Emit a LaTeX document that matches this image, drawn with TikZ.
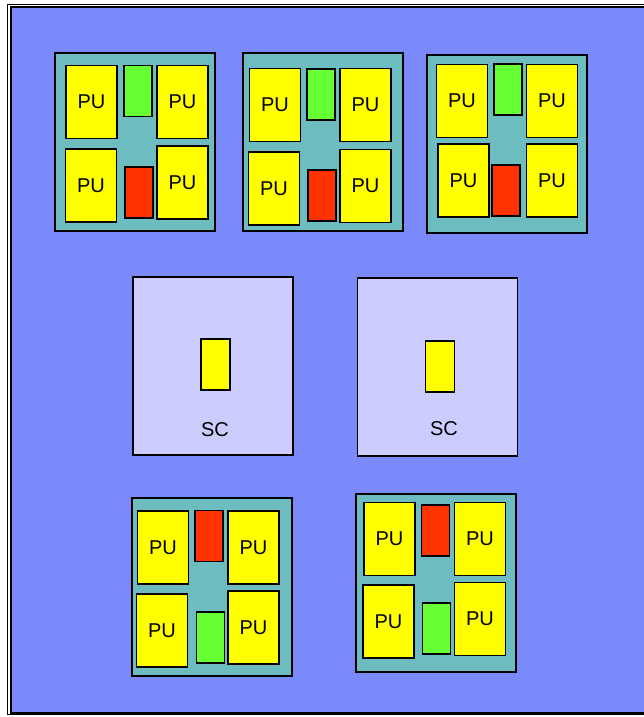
\documentclass[tikz,border=0pt]{standalone}
\usepackage{fontspec}
\setmainfont{Liberation Sans}
\usepackage{tikz}
\usetikzlibrary{positioning}
\definecolor{bgblue}{RGB}{123,138,250}
\definecolor{chipteal}{RGB}{108,188,192}
\definecolor{sclav}{RGB}{204,204,255}
\definecolor{puyellow}{RGB}{255,255,0}
\definecolor{gategreen}{RGB}{102,255,51}
\definecolor{gatered}{RGB}{255,51,0}
\tikzset{
  box/.style={draw=black, rectangle, inner sep=0pt, font=\fontsize{20}{24}\selectfont},
  chip/.style={box, line width=2pt, fill=chipteal, minimum width=160pt, minimum height=178pt},
  pu/.style={box, line width=1.6pt, fill=puyellow, minimum width=51pt, minimum height=73pt},
  gate green/.style={box, line width=1.6pt, fill=gategreen, minimum width=28pt, minimum height=51pt},
  gate red/.style={box, line width=1.6pt, fill=gatered, minimum width=28pt, minimum height=51pt},
  sc/.style={box, line width=1.6pt, fill=sclav, minimum width=160pt, minimum height=178pt},
  sc unit/.style={box, line width=1.4pt, fill=puyellow, minimum width=29pt, minimum height=51pt},
  sc text/.style={font=\fontsize{20}{24}\selectfont, inner sep=0pt},
}
\begin{document}
\begin{tikzpicture}[x=1pt, y=-1pt]
  \useasboundingbox (0,0) rectangle (644,717);
  \begin{scope}
  \clip (0,0) rectangle (644,717);
  % frame
  \draw[line width=1pt] (7.5,4.5) rectangle (700,714.8);
  \draw[line width=2pt, fill=bgblue] (10.5,7.5) rectangle (700,712.5);
  \end{scope}
  % row 1: three chips
  \node[chip] (c1) at (135,142) {};
  \foreach \n/\x/\y in {a/91.5/102, b/182.5/102, c/91/185.5, d/182.5/182.5}
     \node[pu] (c1\n) at (\x,\y) {PU};
  \node[gate green] (c1g) at (138,91) {};
  \node[gate red] (c1r) at (139,192.5) {};
  \node[chip] (c2) at (323,142) {};
  \foreach \n/\x/\y in {a/275/105, b/365.5/105, c/274/188.5, d/365.5/186}
     \node[pu] (c2\n) at (\x,\y) {PU};
  \node[gate green] (c2g) at (321,94.5) {};
  \node[gate red] (c2r) at (322,195.5) {};
  \node[chip] (c3) at (506.5,144.3) {};
  \foreach \n/\x/\y in {a/462/101, b/552/101, c/463.5/180.5, d/552/180.5}
     \node[pu] (c3\n) at (\x,\y) {PU};
  \node[gate green] (c3g) at (508,89.5) {};
  \node[gate red] (c3r) at (506,190.5) {};
  % row 2: shared caches
  \node[sc] (s1) at (213,365.7) {};
  \node[sc unit] (s1u) at (215.5,364.5) {};
  \node[sc text] (s1t) at (215,430) {SC};
  \node[sc] (s2) at (437.5,367) {};
  \node[sc unit] (s2u) at (440,366.5) {};
  \node[sc text] (s2t) at (444,429) {SC};
  % row 3: two chips, red gate on top
  \node[chip] (c4) at (211.5,587) {};
  \foreach \n/\x/\y in {a/163/547.5, b/253.5/547.5, c/162/630.5, d/253.5/627.5}
     \node[pu] (c4\n) at (\x,\y) {PU};
  \node[gate red] (c4r) at (209,536) {};
  \node[gate green] (c4g) at (210.5,637.5) {};
  \node[chip] (c5) at (436,583) {};
  \foreach \n/\x/\y in {a/389.5/539, b/480/539, c/388.5/621.5, d/480/619}
     \node[pu] (c5\n) at (\x,\y) {PU};
  \node[gate red] (c5r) at (435.5,530.5) {};
  \node[gate green] (c5g) at (436.5,628.5) {};
\end{tikzpicture}
\end{document}
